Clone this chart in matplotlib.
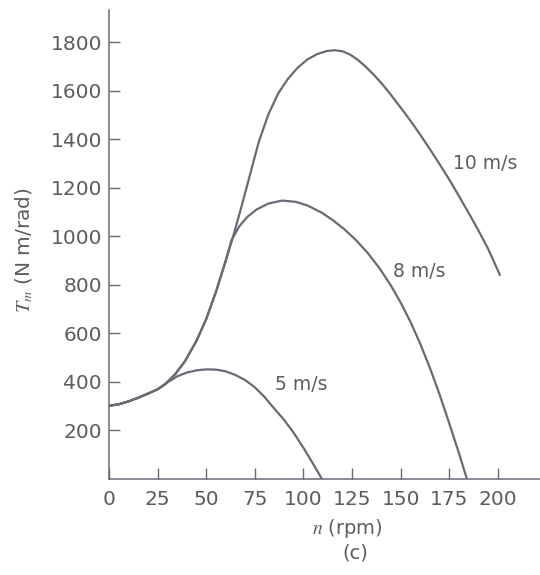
import matplotlib
matplotlib.use("Agg")
import matplotlib.pyplot as plt

# ---- data ----
n10 = [0, 5, 10, 15, 20, 25, 29, 34, 39, 45, 50, 55, 60, 64, 68, 72, 77, 82,
       87, 92, 97, 102, 107, 112, 116, 120, 124, 128, 132, 136, 140, 144,
       148, 152, 156, 160, 165, 170, 175, 180, 185, 190, 195, 201]
T10 = [302, 308, 320, 335, 352, 370, 392, 432, 485, 570, 660, 772, 900,
       1005, 1120, 1240, 1390, 1505, 1590, 1650, 1696, 1730, 1752, 1765,
       1768, 1764, 1750, 1728, 1700, 1668, 1633, 1594, 1552, 1510, 1466,
       1420, 1360, 1298, 1234, 1166, 1096, 1024, 948, 841]

n8 = [0, 5, 10, 15, 20, 25, 29, 34, 39, 45, 50, 55, 60, 63, 67, 71, 76, 82,
      89, 96, 102, 109, 115, 121, 127, 133, 139, 145, 150, 155, 160, 165,
      170, 175, 180, 184]
T8 = [302, 308, 320, 335, 352, 370, 392, 432, 485, 570, 660, 772, 900, 985,
      1042, 1080, 1112, 1136, 1148, 1143, 1128, 1100, 1068, 1030, 985, 932,
      870, 797, 727, 648, 558, 458, 348, 228, 105, 0]

n5 = [0, 5, 10, 15, 20, 25, 30, 35, 40, 45, 50, 55, 60, 65, 70, 75, 80, 85,
      90, 95, 100, 105, 109.5]
T5 = [302, 308, 320, 335, 352, 370, 398, 423, 439, 448, 452, 451, 444, 429,
      408, 378, 338, 290, 244, 190, 128, 62, 0]

curve_labels = ["10 m/s", "8 m/s", "5 m/s"]
xticks = list(range(0, 201, 25))
yticks = list(range(200, 1801, 200))

# ---- style ----
plt.rcParams['font.family'] = ['DejaVu Sans']
plt.rcParams['mathtext.fontset'] = 'stix'
line_c = '#6a6a76'
text_c = '#5c5c62'

W, H = 540, 575
fig = plt.figure(figsize=(W / 100, H / 100), dpi=100)
x0, y_bot, y_top = 109, 479, 10
ax = fig.add_axes([x0 / W, 1 - y_bot / H, 1 - x0 / W, (y_bot - y_top) / H])
ax.set_xlim(0, 221.6)
ax.set_ylim(0, 1934)

for nn, tt in [(n10, T10), (n8, T8), (n5, T5)]:
    ax.plot(nn, tt, color=line_c, lw=1.6, solid_capstyle='round',
            solid_joinstyle='round')

for s in ['top', 'right']:
    ax.spines[s].set_visible(False)
for s in ['left', 'bottom']:
    ax.spines[s].set_color(line_c)
    ax.spines[s].set_linewidth(1.1)

ax.set_xticks(xticks)
ax.set_yticks(yticks)
ax.tick_params(axis='both', direction='in', length=8, width=1.0,
               colors=line_c, labelcolor=text_c, labelsize=14.5)
ax.tick_params(axis='y', pad=5)
ax.tick_params(axis='x', pad=8)

ax.text(176.9, 1303, curve_labels[0], fontsize=13.5, color=text_c,
        ha='left', va='center')
ax.text(146, 854, curve_labels[1], fontsize=13.5, color=text_c,
        ha='left', va='center')
ax.text(85.3, 388, curve_labels[2], fontsize=13.5, color=text_c,
        ha='left', va='center')

fig.text(347 / W, 1 - 528 / H, r"$n$ (rpm)", fontsize=14, color=text_c,
         ha='center', va='center')
fig.text(355 / W, 1 - 553 / H, "(c)", fontsize=14, color=text_c,
         ha='center', va='center')
fig.text(24 / W, 1 - 250 / H, r"$T_m$ (N m/rad)", fontsize=14.5,
         color=text_c, ha='center', va='center', rotation=90)

fig.savefig("out.png", dpi=100, facecolor='white')
